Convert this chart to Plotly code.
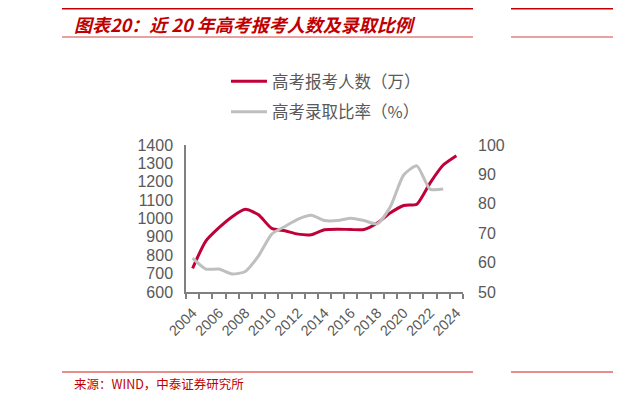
import plotly.graph_objects as go

years = list(range(2004, 2025))
applicants = [729, 877, 950, 1010, 1050, 1020, 946, 933, 915, 912, 939,
              942, 940, 940, 975, 1031, 1071, 1078, 1193, 1291, 1342]
admit_rate = [61.5, 57.8, 57.8, 56.1, 57.0, 62.3, 69.7, 72.3, 74.8, 76.1, 74.3,
              74.3, 75.1, 74.3, 73.2, 79.1, 89.8, 92.9, 85.0, 85.0, None]
label_years = list(range(2004, 2025, 2))
left_ticks = list(range(600, 1401, 100))
right_ticks = list(range(50, 101, 10))

W, H = 621, 403
OFF = 8  # page body margin
RED = "#C00039"
GRAY = "#BFBFBF"
TXT = "#595959"
CJK = "Noto Sans CJK SC"


def px(x):
    return (x - OFF) / W


def py(y):
    return 1 - (y - OFF) / H


fig = go.Figure()
fig.add_trace(go.Scatter(
    x=years, y=applicants, name="高考报考人数（万）", mode="lines",
    line=dict(color=RED, width=3, shape="spline", smoothing=0.6),
    legendgroup="a", yaxis="y"))
fig.add_trace(go.Scatter(
    x=years, y=admit_rate, name="高考录取比率（%）", mode="lines",
    line=dict(color=GRAY, width=3, shape="spline", smoothing=0.6),
    legendgroup="b", yaxis="y2"))

fig.update_layout(
    width=W, height=H,
    margin=dict(l=0, r=0, t=0, b=0, autoexpand=False),
    paper_bgcolor="white", plot_bgcolor="white",
    font=dict(family="Arial, Liberation Sans, " + CJK, color=TXT),
    showlegend=True,
    legend=dict(x=px(226), y=py(64), xanchor="left", yanchor="top",
                font=dict(family=CJK, size=16.5, color=TXT),
                itemwidth=36, tracegroupgap=6, bgcolor="rgba(0,0,0,0)"),
    xaxis=dict(
        domain=[px(186), px(463)], range=[2003.5, 2024.5], automargin=False,
        tickmode="array", tickvals=label_years,
        ticktext=[str(y) for y in label_years],
        tickangle=-45, tickfont=dict(size=14.5, color=TXT),
        ticklabelstandoff=5,
        ticks="", showgrid=False, zeroline=False,
        showline=True, linecolor="#808080", linewidth=1.5,
        minor=dict(ticks="outside", tick0=2003.5, dtick=1, ticklen=5,
                   tickcolor="#808080", tickwidth=1.5, showgrid=False)),
    yaxis=dict(
        domain=[py(292), py(145)], range=[600, 1400], automargin=False,
        tickvals=left_ticks, tickfont=dict(size=16, color=TXT),
        ticklabelstandoff=8,
        showgrid=False, zeroline=False, ticks="",
        showline=True, linecolor="#808080", linewidth=1.5),
    yaxis2=dict(
        overlaying="y", side="right", range=[50, 100], automargin=False,
        tickvals=right_ticks, tickfont=dict(size=16, color=TXT),
        ticklabelstandoff=14,
        showgrid=False, zeroline=False, showline=False, ticks="",
        anchor="x"),
)

# header / footer rules
shapes = [
    dict(x0=62, x1=473, y=8, color="#C00000", w=3),
    dict(x0=511, x1=640, y=8, color="#C00000", w=3),
    dict(x0=62, x1=473, y=37, color="#E08080", w=1.5),
    dict(x0=511, x1=640, y=37, color="#E08080", w=1.5),
    dict(x0=62, x1=473, y=372, color="#E06666", w=1.5),
    dict(x0=511, x1=640, y=372, color="#E06666", w=1.5),
]
for s in shapes:
    fig.add_shape(type="line", xref="paper", yref="paper",
                  x0=px(s["x0"]), x1=px(s["x1"]), y0=py(s["y"]), y1=py(s["y"]),
                  line=dict(color=s["color"], width=s["w"]))

fig.add_annotation(
    x=px(72), y=py(24), xref="paper", yref="paper",
    xanchor="left", yanchor="middle", showarrow=False,
    text="<b><i>图表20：近 20 年高考报考人数及录取比例</i></b>",
    font=dict(family=CJK, size=18, color="#C00000"))
fig.add_annotation(
    x=px(72), y=py(383), xref="paper", yref="paper",
    xanchor="left", yanchor="middle", showarrow=False,
    text="来源：WIND，中泰证券研究所",
    font=dict(family=CJK, size=12.5, color="#C00000"))

fig.write_html("out.html")
